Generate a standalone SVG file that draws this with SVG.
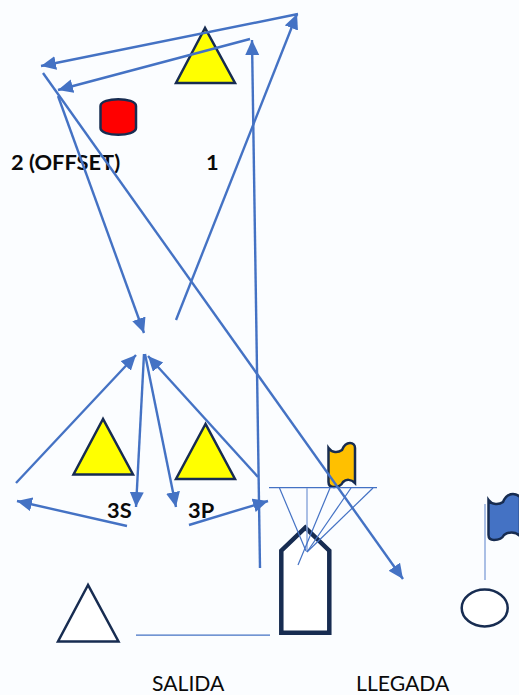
<svg xmlns="http://www.w3.org/2000/svg" width="519" height="695" viewBox="0 0 519 695">
<style>
.lab{font-family:"Lato","Open Sans",sans-serif;font-size:21.2px;fill:#0a0a0a}
.b{font-weight:700;font-size:21.800px}
.s{stroke:#172c51;stroke-width:2.5;stroke-linejoin:miter}
.a{fill:none;stroke:#4472c4;stroke-width:2.4;marker-end:url(#h)}
.t{fill:none;stroke:#4472c4;stroke-width:1.2}
.l{fill:none;stroke:#8faadc;stroke-width:1.5}
</style>
<defs>
<marker id="h" markerUnits="userSpaceOnUse" markerWidth="17" markerHeight="15" refX="15" refY="7" orient="auto" viewBox="0 0 17 15"><path d="M0 0L15 7L0 14Z" fill="#4472c4"/></marker>
</defs>
<rect width="519" height="695" fill="#fbfdff"/>
<g id="labels">
<text class="lab b" x="11" y="170">2 (OFFSET)</text>
<text class="lab b" x="206" y="170">1</text>
<text class="lab b" x="107" y="518">3S</text>
<text class="lab b" x="188" y="518">3P</text>
<text class="lab" x="152" y="691">SALIDA</text>
<text class="lab" x="356" y="691">LLEGADA</text>
</g>
<g id="tri-1"><path class="s" d="M205 28L176 83H235Z" fill="#ffff00"/></g>
<g id="tri-3s"><path class="s" d="M103 419L73.500 474.500H133Z" fill="#ffff00"/></g>
<g id="tri-3p"><path class="s" d="M205.500 424L176 479H235Z" fill="#ffff00"/></g>
<g id="tri-start"><path class="s" d="M88 585L58 641.500H118.500Z" fill="#fff"/></g>
<g id="buoy-red"><path class="s" d="M100.500 106C100.500 97 136 97 136 106V128C136 137 100.500 137 100.500 128Z" fill="#ff0000"/></g>
<g id="flag-orange"><path class="s" d="M328.500 448C332 453 338 453 342 450C344 445 347 443 350 443C353 443 355 445 355 448V483C351 479 346 479 343 482C341 486 338 487 334 487C330 487 328.500 485 328.500 482Z" fill="#ffc000"/></g>
<g id="flag-blue"><path class="s" d="M488.500 500C492 505 499 505 503 502C505 497 509 494 513 494C516 494 518 495 520 497V536C515 531 508 532 504 535C502 539 498 540 494 540C490 540 488.500 538 488.500 535Z" fill="#4472c4"/></g>
<g id="boat"><path d="M281.300 632.700V550.700L305.300 527.700L329.300 550.700V632.700Z" fill="#fff" stroke="#172c51" stroke-width="4.500"/></g>
<g id="buoy-finish"><ellipse cx="484.700" cy="608" rx="23" ry="18.500" fill="#fff" stroke="#172c51" stroke-width="2.500"/></g>
<g id="connectors">
<path class="t" d="M269 487.700H377"/>
<path class="t" d="M279.500 488L306 551"/>
<path class="l" d="M307 488V552"/>
<path class="t" d="M330 488L298 565"/>
<path class="t" d="M351 488L307 552"/>
<path class="t" d="M373 488L307 552"/>
<path class="l" d="M485 504V580"/>
<path class="t" d="M136 635.200H270"/>
<path class="a" d="M298 14L41 66"/>
<path class="a" d="M250 39L58 90"/>
<path class="a" d="M43 73L403 579"/>
<path class="a" d="M58 96L144 333"/>
<path class="a" d="M176 320L297 14"/>
<path class="a" d="M260 568L252 40"/>
<path class="a" d="M16 483L136 355"/>
<path class="a" d="M144 354L136 507"/>
<path class="a" d="M145 354L176 507"/>
<path class="a" d="M258 477L148 356"/>
<path class="a" d="M127 526L17 501"/>
<path class="a" d="M189 525L268 501"/>
</g>
</svg>
